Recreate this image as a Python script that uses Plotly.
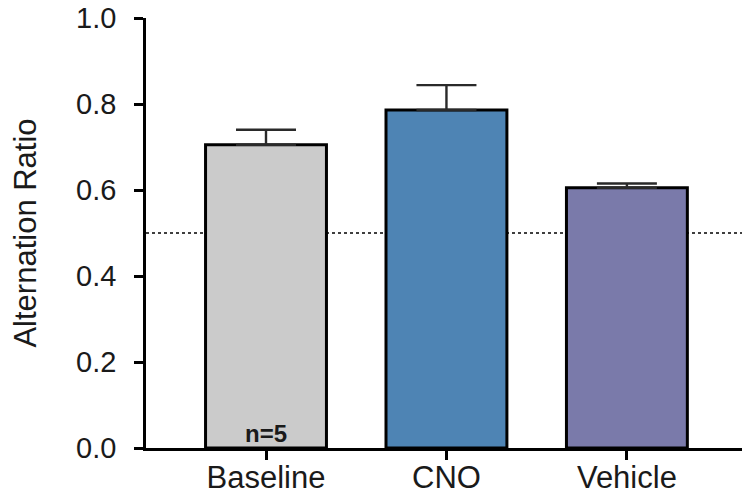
import plotly.graph_objects as go

categories = ["Baseline", "CNO", "Vehicle"]
means = [0.705, 0.786, 0.605]
sem = [0.035, 0.058, 0.010]
colors = ["#cbcbcb", "#4e84b4", "#7a7aaa"]
y_ticks = [0.0, 0.2, 0.4, 0.6, 0.8, 1.0]
chance_level = 0.5
n_label = "n=5"

FONT = "Arial, 'Liberation Sans', Helvetica, sans-serif"

fig = go.Figure()
fig.add_trace(go.Bar(
    x=categories,
    y=means,
    width=0.67,
    marker=dict(color=colors, line=dict(color="black", width=3)),
    error_y=dict(type="data", array=sem, arrayminus=[0] * len(sem), symmetric=False,
                 color="#2a2a2a", thickness=2.4, width=30),
    showlegend=False,
))

fig.add_shape(type="line", xref="paper", yref="y", x0=0, x1=1,
              y0=chance_level, y1=chance_level, layer="below",
              line=dict(color="black", width=1.5, dash="dot"))

fig.add_annotation(x=categories[0], y=0.033, text="<b>" + n_label + "</b>",
                   showarrow=False, font=dict(family=FONT, size=24, color="#1a1a1a"))

# page body has an 8px margin, so the figure is sized/offset to compensate
fig.update_layout(
    width=742, height=485,
    margin=dict(l=138, r=4, t=10, b=45),
    plot_bgcolor="white", paper_bgcolor="white",
    font=dict(family=FONT, size=29, color="#1a1a1a"),
)
fig.update_xaxes(
    range=[-0.665, 2.66], showgrid=False, zeroline=False, automargin=False,
    showline=True, linecolor="black", linewidth=2.5,
    ticks="outside", ticklen=9, tickwidth=2.5, tickcolor="black",
    tickfont=dict(size=31), ticklabelstandoff=-9, ticklabeloverflow="allow",
)
fig.update_yaxes(
    range=[0, 1.0], showgrid=False, zeroline=False, automargin=False,
    showline=True, linecolor="black", linewidth=2.5,
    ticks="outside", ticklen=9, tickwidth=2.5, tickcolor="black",
    tickvals=y_ticks, tickformat=".1f", tickfont=dict(size=29),
    ticklabelstandoff=12, ticklabeloverflow="allow",
    title=dict(text="Alternation Ratio", font=dict(size=31), standoff=58),
)

fig.write_html("out.html")
